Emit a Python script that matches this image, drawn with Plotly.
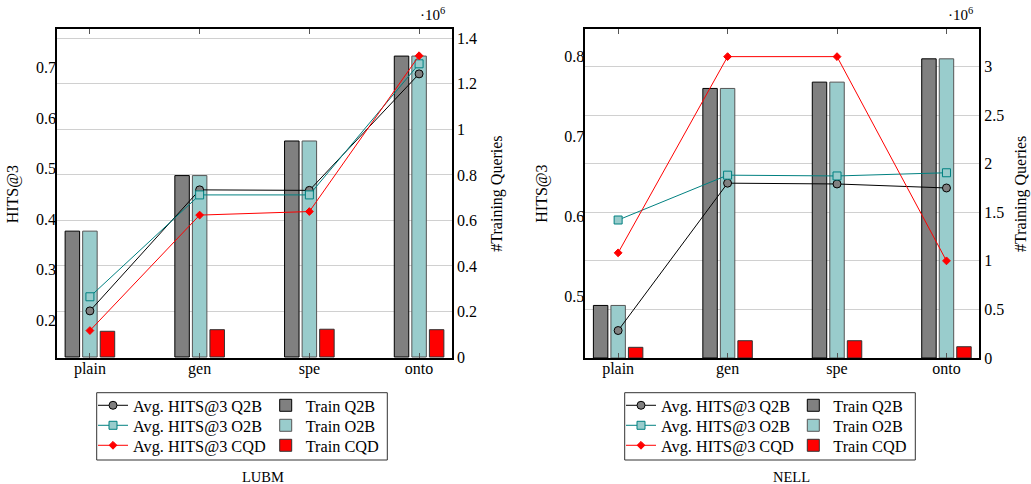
import plotly.graph_objects as go

W, H = 1031, 484

categories = ["plain", "gen", "spe", "onto"]
xpos = [0, 1, 2, 3]

# LUBM
lubm_train_q2b = [0.553e6, 0.797e6, 0.949e6, 1.322e6]
lubm_train_o2b = [0.553e6, 0.797e6, 0.949e6, 1.322e6]
lubm_train_cqd = [0.113e6, 0.120e6, 0.122e6, 0.120e6]
lubm_hits_q2b = [0.218, 0.458, 0.457, 0.688]
lubm_hits_o2b = [0.246, 0.448, 0.448, 0.708]
lubm_hits_cqd = [0.179, 0.408, 0.415, 0.724]

# NELL
nell_train_q2b = [0.541e6, 2.775e6, 2.840e6, 3.080e6]
nell_train_o2b = [0.541e6, 2.775e6, 2.840e6, 3.080e6]
nell_train_cqd = [0.110e6, 0.178e6, 0.178e6, 0.116e6]
nell_hits_q2b = [0.458, 0.642, 0.641, 0.636]
nell_hits_o2b = [0.596, 0.652, 0.651, 0.655]
nell_hits_cqd = [0.555, 0.800, 0.800, 0.545]

lubm_left_ticks = [0.2, 0.3, 0.4, 0.5, 0.6, 0.7]
lubm_right_ticks = [0, 0.2e6, 0.4e6, 0.6e6, 0.8e6, 1.0e6, 1.2e6, 1.4e6]
lubm_right_text = ["0", "0.2", "0.4", "0.6", "0.8", "1", "1.2", "1.4"]
nell_left_ticks = [0.5, 0.6, 0.7, 0.8]
nell_right_ticks = [0, 0.5e6, 1.0e6, 1.5e6, 2.0e6, 2.5e6, 3.0e6]
nell_right_text = ["0", "0.5", "1", "1.5", "2", "2.5", "3"]

FONT = "Liberation Serif"
GRAY = "#808080"
TEAL = "#008080"
LTEAL = "#99CCCC"
RED = "#FF0000"

BW = 0.132
OFF = 0.16

def px_x(p):
    return p / W

def px_y(p):
    return 1 - p / H

fig = go.Figure()

ROWS = [405.7, 425.7, 445.7]
legend_cfg = {}
leg_counter = [0]

def new_legend(xpx, ypx):
    leg_counter[0] += 1
    lid = "legend" if leg_counter[0] == 1 else f"legend{leg_counter[0]}"
    legend_cfg[lid] = dict(x=px_x(xpx), y=px_y(ypx), xanchor="left", yanchor="middle",
                           bgcolor="rgba(0,0,0,0)", borderwidth=0,
                           font=dict(family=FONT, size=16.3, color="#000000"))
    return lid

def add_chart(xa, ybar, yline, tq, to, tc, hq, ho, hc, lx_lines, lx_bars):
    bars = [("Train Q2B", tq, GRAY, "#000000", -OFF),
            ("Train O2B", to, LTEAL, "#555555", 0.0),
            ("Train CQD", tc, RED, "#333333", OFF)]
    for i, (name, vals, fill, edge, off) in enumerate(bars):
        fig.add_trace(go.Bar(
            x=xpos, y=vals, name=name, width=BW, offset=off - BW / 2,
            marker=dict(color=fill, line=dict(color=edge, width=1)),
            xaxis=xa, yaxis=ybar, legend=new_legend(lx_bars, ROWS[i]), showlegend=True))
    lines = [("Avg. HITS@3 Q2B", hq, "#000000", dict(symbol="circle", size=8, color=GRAY, line=dict(color="#000000", width=1))),
             ("Avg. HITS@3 O2B", ho, TEAL, dict(symbol="square", size=8, color=LTEAL, line=dict(color=TEAL, width=1))),
             ("Avg. HITS@3 CQD", hc, RED, dict(symbol="diamond", size=6, color=RED, line=dict(color=RED, width=1)))]
    for i, (name, vals, col, mk) in enumerate(lines):
        fig.add_trace(go.Scatter(
            x=xpos, y=vals, name=name, mode="lines+markers",
            line=dict(color=col, width=1), marker=mk,
            xaxis=xa, yaxis=yline, legend=new_legend(lx_lines, ROWS[i])))

TXT_OFF = 41
add_chart("x", "y", "y2", lubm_train_q2b, lubm_train_o2b, lubm_train_cqd,
          lubm_hits_q2b, lubm_hits_o2b, lubm_hits_cqd, 134 - TXT_OFF, 306.7 - TXT_OFF)
add_chart("x2", "y3", "y4", nell_train_q2b, nell_train_o2b, nell_train_cqd,
          nell_hits_q2b, nell_hits_o2b, nell_hits_cqd, 662 - TXT_OFF, 834.3 - TXT_OFF)

tickfont = dict(family=FONT, size=16, color="#000000")
ydom = [px_y(358), px_y(29)]
xdom_l = [px_x(57), px_x(452)]
xdom_r = [px_x(585.3), px_x(979.3)]

common_x = dict(range=[-0.3, 3.3], tickvals=xpos, ticktext=categories, tickfont=tickfont,
                showline=True, linecolor="#000000", linewidth=1.5, mirror="ticks",
                ticks="inside", ticklen=5, tickcolor="#555555", showgrid=False, zeroline=False,
                fixedrange=True, ticklabelstandoff=-5)

fig.update_layout(
    width=W, height=H,
    margin=dict(l=0, r=0, t=0, b=0, autoexpand=False),
    paper_bgcolor="white", plot_bgcolor="white",
    barmode="overlay",
    font=dict(family=FONT, size=16, color="#000000"),
    xaxis=dict(domain=xdom_l, anchor="y", **common_x),
    yaxis=dict(domain=ydom, anchor="x", side="right", range=[-0.0044e6, 1.441e6],
               tickvals=lubm_right_ticks, ticktext=lubm_right_text, tickfont=tickfont,
               showgrid=True, gridcolor="#d0d0d0", gridwidth=1.2, zeroline=False,
               showline=True, linecolor="#000000", linewidth=1.5, mirror=True,
               ticks="", fixedrange=True),
    yaxis2=dict(overlaying="y", anchor="x", side="left", range=[0.1246, 0.777],
                tickvals=lubm_left_ticks, ticktext=[f"{v:.1f}" for v in lubm_left_ticks],
                tickfont=tickfont, showgrid=False, zeroline=False, ticks="", fixedrange=True),
    xaxis2=dict(domain=xdom_r, anchor="y3", **common_x),
    yaxis3=dict(domain=ydom, anchor="x2", side="right", range=[0, 3.387e6],
                tickvals=nell_right_ticks, ticktext=nell_right_text, tickfont=tickfont,
                showgrid=True, gridcolor="#d0d0d0", gridwidth=1.2, zeroline=False,
                showline=True, linecolor="#000000", linewidth=1.5, mirror=True,
                ticks="", fixedrange=True),
    yaxis4=dict(overlaying="y3", anchor="x2", side="left", range=[0.4237, 0.8345],
                tickvals=nell_left_ticks, ticktext=[f"{v:.1f}" for v in nell_left_ticks],
                tickfont=tickfont, showgrid=False, zeroline=False, ticks="", fixedrange=True),
)
fig.update_layout(**legend_cfg)

# legend frames
for x0, x1 in [(96.7, 387.3), (624.7, 915.3)]:
    fig.add_shape(type="rect", xref="paper", yref="paper",
                  x0=px_x(x0), x1=px_x(x1), y0=px_y(460), y1=px_y(392.7),
                  line=dict(color="#333333", width=1), fillcolor="rgba(0,0,0,0)", layer="below")

ann = []
for x, y, txt, ang, sz in [(13.3, 194, "HITS@3", -90, 16), (496.7, 194, "#Training Queries", -90, 16),
                           (541.7, 194, "HITS@3", -90, 16), (1021, 194, "#Training Queries", -90, 16),
                           (432, 14, "·10<sup>6</sup>", 0, 15), (960, 14, "·10<sup>6</sup>", 0, 15),
                           (262.7, 476.7, "LUBM", 0, 14.5), (791.7, 476.7, "NELL", 0, 14.5)]:
    ann.append(dict(x=px_x(x), y=px_y(y), xref="paper", yref="paper", text=txt,
                    textangle=ang, showarrow=False, xanchor="center", yanchor="middle",
                    font=dict(family=FONT, size=sz, color="#000000")))
fig.update_layout(annotations=ann)

fig.write_html("out.html", config={"displayModeBar": False},
               post_script="document.body.style.margin='0';document.body.style.overflow='hidden';")
